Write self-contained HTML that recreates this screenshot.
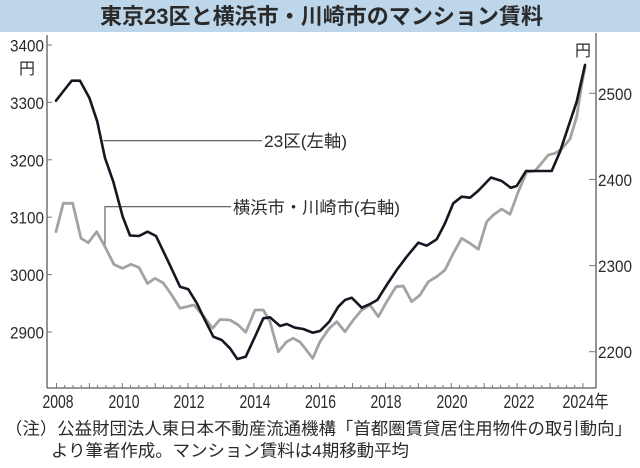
<!DOCTYPE html>
<html><head><meta charset="utf-8">
<style>
html,body{margin:0;padding:0;background:#fff;}
svg{display:block;}
text{font-family:"Liberation Sans","Noto Sans CJK JP",sans-serif;fill:#2a2a2a;}
</style></head>
<body>
<svg width="640" height="468" viewBox="0 0 640 468" xmlns="http://www.w3.org/2000/svg">
<rect x="0" y="0" width="640" height="468" fill="#ffffff"/>
<rect x="0" y="0" width="640" height="32" fill="#bdd6ea"/>
<text x="100" y="24" font-size="22" font-weight="bold" textLength="443" lengthAdjust="spacingAndGlyphs" fill="#111">東京23区と横浜市・川崎市のマンション賃料</text>

<!-- axes -->
<g stroke="#5a5a5a" stroke-width="1.3" fill="none">
<line x1="47" y1="35" x2="47" y2="388"/>
<line x1="596" y1="33" x2="596" y2="388"/>
<line x1="47" y1="388" x2="596" y2="388"/>
</g>
<!-- left ticks -->
<g stroke="#777" stroke-width="1">
<line x1="47" y1="45" x2="52" y2="45"/>
<line x1="47" y1="102.4" x2="52" y2="102.4"/>
<line x1="47" y1="159.8" x2="52" y2="159.8"/>
<line x1="47" y1="217.2" x2="52" y2="217.2"/>
<line x1="47" y1="274.6" x2="52" y2="274.6"/>
<line x1="47" y1="332" x2="52" y2="332"/>
<line x1="589" y1="93.3" x2="596" y2="93.3"/>
<line x1="589" y1="179.4" x2="596" y2="179.4"/>
<line x1="589" y1="265.6" x2="596" y2="265.6"/>
<line x1="589" y1="351.7" x2="596" y2="351.7"/>
</g>
<!-- bottom ticks -->
<g stroke="#777" stroke-width="1" id="bt"></g>

<!-- left labels -->
<g font-size="17">
<text x="10" y="51.5" textLength="34" lengthAdjust="spacingAndGlyphs">3400</text>
<text x="10" y="108.9" textLength="34" lengthAdjust="spacingAndGlyphs">3300</text>
<text x="10" y="166.3" textLength="34" lengthAdjust="spacingAndGlyphs">3200</text>
<text x="10" y="223.7" textLength="34" lengthAdjust="spacingAndGlyphs">3100</text>
<text x="10" y="281.1" textLength="34" lengthAdjust="spacingAndGlyphs">3000</text>
<text x="10" y="338.5" textLength="34" lengthAdjust="spacingAndGlyphs">2900</text>
<text x="19" y="74" font-size="16">円</text>
<text x="575" y="56" font-size="16">円</text>
<text x="598" y="99.8" textLength="34" lengthAdjust="spacingAndGlyphs">2500</text>
<text x="598" y="185.9" textLength="34" lengthAdjust="spacingAndGlyphs">2400</text>
<text x="598" y="272.1" textLength="34" lengthAdjust="spacingAndGlyphs">2300</text>
<text x="598" y="358.2" textLength="34" lengthAdjust="spacingAndGlyphs">2200</text>
</g>
<!-- year labels -->
<g font-size="18">
<text x="42.5" y="408" textLength="31" lengthAdjust="spacingAndGlyphs">2008</text>
<text x="108.5" y="408" textLength="31" lengthAdjust="spacingAndGlyphs">2010</text>
<text x="173.5" y="408" textLength="31" lengthAdjust="spacingAndGlyphs">2012</text>
<text x="239.5" y="408" textLength="31" lengthAdjust="spacingAndGlyphs">2014</text>
<text x="305" y="408" textLength="31" lengthAdjust="spacingAndGlyphs">2016</text>
<text x="370.5" y="408" textLength="31" lengthAdjust="spacingAndGlyphs">2018</text>
<text x="436.5" y="408" textLength="31" lengthAdjust="spacingAndGlyphs">2020</text>
<text x="503.5" y="408" textLength="31" lengthAdjust="spacingAndGlyphs">2022</text>
<text x="562.5" y="408" textLength="46" lengthAdjust="spacingAndGlyphs">2024年</text>
</g>

<!-- label leaders -->
<g stroke="#555" stroke-width="1.1" fill="none">
<polyline points="103.3,140.7 262,140.7"/>
<polyline points="105,246.7 105,206.7 231,206.7"/>
</g>
<text x="264" y="147" font-size="17" textLength="83" lengthAdjust="spacingAndGlyphs">23区(左軸)</text>
<text x="233" y="213.5" font-size="17" textLength="167" lengthAdjust="spacingAndGlyphs">横浜市・川崎市(右軸)</text>

<!-- gray series -->
<polyline fill="none" stroke="#a3a3a3" stroke-width="2.8" stroke-linejoin="round" stroke-linecap="round"
points="56,231.7 63.3,203.3 72.7,203.3 81,238.3 88.3,242.7 96.7,231.7 105,246.7 114,264.5 122.5,268.3 131,264.3 139,267.5 147.5,283.5 155,278.3 163.3,283 171.7,295 180,308.3 194,305 203.3,316 212.5,328.3 220,319.5 230,320 238.3,325 245.7,332.3 255,310 263.3,310 270,321.7 278.3,351.7 286.7,341.7 293.3,338.3 300,342 305,348.3 312.7,358.3 320,341.7 329.3,328.3 336.7,321.7 345,331.7 353.3,320 361.7,310 370,305 378.3,316.7 386.7,301.7 396,286.7 403.3,286 411.7,301.7 420,295 428.3,281.7 436.7,276.7 445,270 453.3,253.3 461.7,238.3 470,243.3 478.3,249.3 486.7,221.7 493.3,215 501.7,209 510,214.3 518.3,191.7 526.7,172 535,171 548.3,155 555,153.3 561.7,149 570,139 576.7,116.7 581.7,85 585,67"/>

<!-- black series -->
<polyline fill="none" stroke="#161622" stroke-width="2.6" stroke-linejoin="round" stroke-linecap="round"
points="56,100.7 64.3,90 71.7,80.7 80,80.7 89.3,97.7 97.3,121.7 105,158 113.3,181.7 122.7,216.7 130,235.5 139,236 147.5,231.7 156,236 168.3,261.7 180,286.7 188.3,289.3 196.7,303 203.3,316.7 213.3,336.7 221.7,340 230,348.3 237.3,359 245.7,356.7 255,336.7 263.3,318.3 270,317.3 280,326 286.7,324 295,327.7 303.3,329 312.7,332.7 320,331 329.3,321.7 338.3,306.7 345,300 351.7,297.7 361.7,307.7 370,304 377.3,300 386.7,285 396.7,270 406.7,256.7 418.3,242.7 426.7,245.7 436.7,239.3 445,223.3 453.3,203.3 461.7,196.7 470,197.7 478,191 491,177.5 501.7,181 510.7,187.7 516.7,186 526,171 535,171 551.7,171 560,151.7 568.3,126.7 576.7,101.7 585,65"/>

<!-- footnote -->
<text x="5" y="434.5" font-size="17" textLength="627" lengthAdjust="spacingAndGlyphs">（注）公益財団法人東日本不動産流通機構「首都圏賃貸居住用物件の取引動向」</text>
<text x="51" y="456.5" font-size="17" textLength="358" lengthAdjust="spacingAndGlyphs">より筆者作成。マンション賃料は4期移動平均</text>

<g stroke="#777" stroke-width="1">
<line x1="56.5" y1="388" x2="56.5" y2="383"/><line x1="64.7" y1="388" x2="64.7" y2="385"/><line x1="73" y1="388" x2="73" y2="385"/><line x1="81.2" y1="388" x2="81.2" y2="385"/>
<line x1="89.4" y1="388" x2="89.4" y2="383"/><line x1="97.6" y1="388" x2="97.6" y2="385"/><line x1="105.9" y1="388" x2="105.9" y2="385"/><line x1="114.1" y1="388" x2="114.1" y2="385"/>
<line x1="122.3" y1="388" x2="122.3" y2="383"/><line x1="130.5" y1="388" x2="130.5" y2="385"/><line x1="138.8" y1="388" x2="138.8" y2="385"/><line x1="147" y1="388" x2="147" y2="385"/>
<line x1="155.2" y1="388" x2="155.2" y2="383"/><line x1="163.4" y1="388" x2="163.4" y2="385"/><line x1="171.7" y1="388" x2="171.7" y2="385"/><line x1="179.9" y1="388" x2="179.9" y2="385"/>
<line x1="188.1" y1="388" x2="188.1" y2="383"/><line x1="196.3" y1="388" x2="196.3" y2="385"/><line x1="204.6" y1="388" x2="204.6" y2="385"/><line x1="212.8" y1="388" x2="212.8" y2="385"/>
<line x1="221" y1="388" x2="221" y2="383"/><line x1="229.2" y1="388" x2="229.2" y2="385"/><line x1="237.5" y1="388" x2="237.5" y2="385"/><line x1="245.7" y1="388" x2="245.7" y2="385"/>
<line x1="253.9" y1="388" x2="253.9" y2="383"/><line x1="262.1" y1="388" x2="262.1" y2="385"/><line x1="270.4" y1="388" x2="270.4" y2="385"/><line x1="278.6" y1="388" x2="278.6" y2="385"/>
<line x1="286.8" y1="388" x2="286.8" y2="383"/><line x1="295" y1="388" x2="295" y2="385"/><line x1="303.3" y1="388" x2="303.3" y2="385"/><line x1="311.5" y1="388" x2="311.5" y2="385"/>
<line x1="319.7" y1="388" x2="319.7" y2="383"/><line x1="327.9" y1="388" x2="327.9" y2="385"/><line x1="336.2" y1="388" x2="336.2" y2="385"/><line x1="344.4" y1="388" x2="344.4" y2="385"/>
<line x1="352.6" y1="388" x2="352.6" y2="383"/><line x1="360.8" y1="388" x2="360.8" y2="385"/><line x1="369.1" y1="388" x2="369.1" y2="385"/><line x1="377.3" y1="388" x2="377.3" y2="385"/>
<line x1="385.5" y1="388" x2="385.5" y2="383"/><line x1="393.7" y1="388" x2="393.7" y2="385"/><line x1="402" y1="388" x2="402" y2="385"/><line x1="410.2" y1="388" x2="410.2" y2="385"/>
<line x1="418.4" y1="388" x2="418.4" y2="383"/><line x1="426.6" y1="388" x2="426.6" y2="385"/><line x1="434.9" y1="388" x2="434.9" y2="385"/><line x1="443.1" y1="388" x2="443.1" y2="385"/>
<line x1="451.3" y1="388" x2="451.3" y2="383"/><line x1="459.5" y1="388" x2="459.5" y2="385"/><line x1="467.8" y1="388" x2="467.8" y2="385"/><line x1="476" y1="388" x2="476" y2="385"/>
<line x1="484.2" y1="388" x2="484.2" y2="383"/><line x1="492.4" y1="388" x2="492.4" y2="385"/><line x1="500.7" y1="388" x2="500.7" y2="385"/><line x1="508.9" y1="388" x2="508.9" y2="385"/>
<line x1="517.1" y1="388" x2="517.1" y2="383"/><line x1="525.3" y1="388" x2="525.3" y2="385"/><line x1="533.6" y1="388" x2="533.6" y2="385"/><line x1="541.8" y1="388" x2="541.8" y2="385"/>
<line x1="550" y1="388" x2="550" y2="383"/><line x1="558.2" y1="388" x2="558.2" y2="385"/><line x1="566.5" y1="388" x2="566.5" y2="385"/><line x1="574.7" y1="388" x2="574.7" y2="385"/>
<line x1="582.9" y1="388" x2="582.9" y2="383"/>
</g>
</svg>
</body></html>
